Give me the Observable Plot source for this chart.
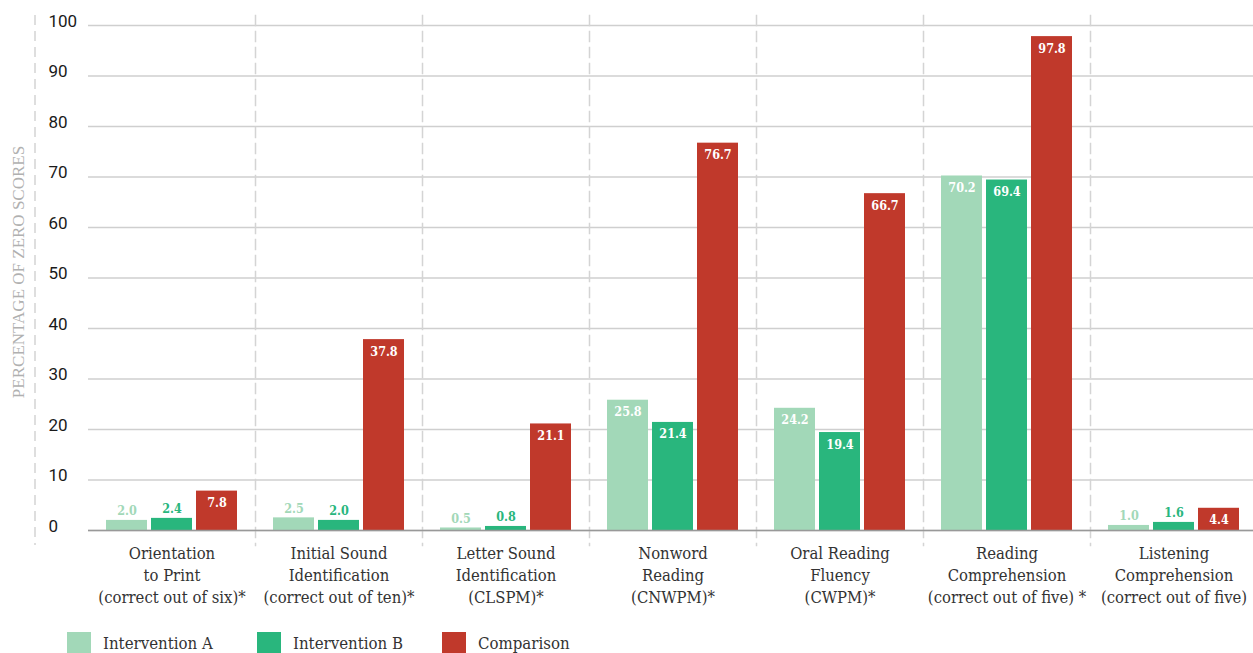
<!DOCTYPE html>
<html>
<head>
<meta charset="utf-8">
<script src="https://cdn.jsdelivr.net/npm/d3@7"></script>
<script src="https://cdn.jsdelivr.net/npm/@observablehq/plot@0.6"></script>
<style>
  html, body { margin: 0; padding: 0; background: #fff; }
  #chart svg { display: block; overflow: visible; }
  g[aria-label="y title"] text { letter-spacing: 0.8px; }
  .legend { display: flex; padding: 7px 0 0 67px; font-family: "DejaVu Serif Condensed", "DejaVu Serif", serif; font-size: 16.7px; color: #333; }
  .legend .item { display: flex; align-items: center; }
  .legend .swatch { width: 24px; height: 22px; margin-right: 12px; }
</style>
</head>
<body>
<div id="chart"></div>
<script>
// Assessment subtasks (multi-line labels)
const categories = [
  "Orientation\nto Print\n(correct out of six)*",
  "Initial Sound\nIdentification\n(correct out of ten)*",
  "Letter Sound\nIdentification\n(CLSPM)*",
  "Nonword\nReading\n(CNWPM)*",
  "Oral Reading\nFluency\n(CWPM)*",
  "Reading\nComprehension\n(correct out of five) *",
  "Listening\nComprehension\n(correct out of five)"
];
const seriesNames = ["Intervention A", "Intervention B", "Comparison"];
const interventionA = [2.0, 2.5, 0.5, 25.8, 24.2, 70.2, 1.0];
const interventionB = [2.4, 2.0, 0.8, 21.4, 19.4, 69.4, 1.6];
const comparison = [7.8, 37.8, 21.1, 76.7, 66.7, 97.8, 4.4];
const seriesColors = ["#a2d8b8", "#29b67d", "#c0392b"];
const yTicks = [0, 10, 20, 30, 40, 50, 60, 70, 80, 90, 100];
const yTitle = "PERCENTAGE OF ZERO SCORES";

const seriesValues = [interventionA, interventionB, comparison];
const rows = [];
categories.forEach((cat, i) => {
  seriesNames.forEach((s, j) => {
    rows.push({category: cat, series: s, value: seriesValues[j][i]});
  });
});
const inside = rows.filter(d => d.value >= 4);
const above = rows.filter(d => d.value < 4);

const serif = "'DejaVu Serif Condensed', 'DejaVu Serif', serif";
const dash = {stroke: "#d4d4d4", strokeWidth: 1.5, strokeDasharray: "10,6"};

const chart = Plot.plot({
  width: 1253,
  height: 625,
  marginLeft: 88,
  marginRight: -4,
  marginTop: 25,
  marginBottom: 95,
  style: {background: "#fff"},
  fx: {domain: categories, paddingInner: 0, paddingOuter: 0},
  x: {domain: seriesNames, paddingInner: 0.09, paddingOuter: 0.4, axis: null},
  y: {domain: [0, 100]},
  color: {domain: seriesNames, range: seriesColors},
  marks: [
    Plot.gridY(yTicks, {stroke: "#cfcfcf", strokeOpacity: 1, strokeWidth: 1.3}),
    Plot.frame({anchor: "right", ...dash, insetTop: -10, insetBottom: -15}),
    Plot.ruleX([seriesNames[0]], {x: d => d, fx: () => categories[0], dx: -92, ...dash, insetTop: -10, insetBottom: -15}),
    Plot.barY(rows, {fx: "category", x: "series", y: "value", fill: "series"}),
    Plot.ruleY([0], {stroke: "#999", strokeWidth: 1.5}),
    Plot.text(inside, {
      fx: "category", x: "series", y: "value", text: d => d.value.toFixed(1),
      dy: 12, fill: "#fff", fontWeight: "bold", fontSize: 12.5, fontFamily: serif
    }),
    Plot.text(above, {
      fx: "category", x: "series", y: "value", text: d => d.value.toFixed(1),
      dy: -9, fill: d => seriesColors[seriesNames.indexOf(d.series)], fontWeight: "bold", fontSize: 12.5, fontFamily: serif
    }),
    Plot.axisY(yTicks, {
      tickSize: 0, tickPadding: 40, textAnchor: "start", dy: -4,
      fontSize: 17, fontFamily: "Roboto, sans-serif", fill: "#1a1a1a", label: null
    }),
    Plot.text([yTitle], {
      fx: () => categories[0], frameAnchor: "left", textAnchor: "middle", rotate: -90, dx: -70, dy: -6,
      fill: "#b0b0b0", fontSize: 17, fontFamily: "'Liberation Serif', serif", ariaLabel: "y title"
    }),
    Plot.axisFx({
      anchor: "bottom", tickSize: 0, tickPadding: 13, label: null,
      fontSize: 16.5, lineHeight: 1.34, fontFamily: serif, fill: "#333"
    })
  ]
});
document.getElementById("chart").appendChild(chart);

// Legend below the plot
const legend = d3.select("body").append("div").attr("class", "legend");
const itemWidths = [190, 185, 160];
seriesNames.forEach((s, i) => {
  const item = legend.append("div").attr("class", "item").style("width", itemWidths[i] + "px");
  item.append("div").attr("class", "swatch").style("background", seriesColors[i]);
  item.append("span").text(s);
});
</script>
</body>
</html>
